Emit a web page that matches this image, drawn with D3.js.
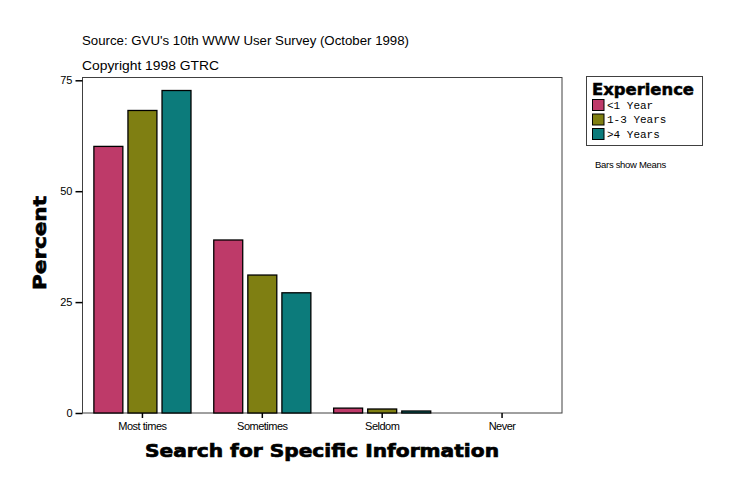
<!DOCTYPE html>
<html><head><meta charset="utf-8">
<script src="https://cdn.jsdelivr.net/npm/d3@7"></script>
<style>body{margin:0;background:#fff;}svg{display:block;}</style>
</head><body>
<svg id="c" width="736" height="496"></svg>
<script>
const categories = ["Most times", "Sometimes", "Seldom", "Never"];
const seriesNames = ["<1 Year", "1-3 Years", ">4 Years"];
const lessThan1 = [60.1, 39.0, 1.1, 0];
const oneToThree = [68.2, 31.1, 0.9, 0];
const moreThan4 = [72.7, 27.1, 0.45, 0];
const seriesValues = [lessThan1, oneToThree, moreThan4];
const colors = ["#BE3A69", "#7F7F12", "#0C7B7B"];
const yTicks = [0, 25, 50, 75];

const svg = d3.select("#c");
const L = 82.5, R = 562, T = 77.5, B = 413;
const x0 = d3.scaleBand().domain(categories).range([L, R]).paddingInner(0.19).paddingOuter(0.095);
const x1 = d3.scaleBand().domain(seriesNames).range([0, x0.bandwidth()]).paddingInner(0.15);
const y = d3.scaleLinear().domain([0, 75]).range([B, 80.3]);

// plot frame
svg.append("rect").attr("x", L).attr("y", T).attr("width", R - L).attr("height", B - T)
  .attr("fill", "#fff").attr("stroke", "#404040").attr("stroke-width", 1);

// bars
categories.forEach((c, ci) => {
  seriesValues.forEach((vals, si) => {
    const v = vals[ci];
    if (v <= 0) return;
    svg.append("rect")
      .attr("x", x0(c) + x1(seriesNames[si]))
      .attr("y", y(v))
      .attr("width", x1.bandwidth())
      .attr("height", B - y(v))
      .attr("fill", colors[si]).attr("stroke", "#000").attr("stroke-width", 1.3);
  });
});

// y axis
const yAxis = d3.axisLeft(y).tickValues(yTicks).tickSize(7).tickPadding(3);
const gy = svg.append("g").attr("transform", `translate(${L},0)`).call(yAxis);
gy.select(".domain").remove();
gy.selectAll("line").attr("stroke", "#000").attr("stroke-width", 1.5);
gy.selectAll("text").attr("font-family", "Liberation Sans, Arial, sans-serif").attr("font-size", 11).attr("fill", "#000");

// x axis
const xAxis = d3.axisBottom(x0).tickSize(5).tickPadding(4);
const gx = svg.append("g").attr("transform", `translate(0,${B})`).call(xAxis);
gx.select(".domain").remove();
gx.selectAll("line").attr("stroke", "#000").attr("stroke-width", 1.5);
gx.selectAll("text").attr("font-family", "Liberation Sans, Arial, sans-serif").attr("font-size", 11).attr("fill", "#000").attr("letter-spacing", "-0.5px");

// titles
svg.append("text").attr("x", 322).attr("y", 457).attr("text-anchor", "middle")
  .attr("font-family", "DejaVu Sans, sans-serif").attr("font-weight", "bold").attr("font-size", 18)
  .attr("stroke", "#000").attr("stroke-width", 0.7)
  .attr("textLength", 354).attr("lengthAdjust", "spacingAndGlyphs")
  .text("Search for Specific Information");
svg.append("text").attr("transform", "translate(46,243) rotate(-90)").attr("text-anchor", "middle")
  .attr("font-family", "DejaVu Sans, sans-serif").attr("font-weight", "bold").attr("font-size", 18)
  .attr("stroke", "#000").attr("stroke-width", 0.7)
  .attr("textLength", 94).attr("lengthAdjust", "spacingAndGlyphs")
  .text("Percent");

svg.append("text").attr("x", 82).attr("y", 45)
  .attr("font-family", "Liberation Sans, Arial, sans-serif").attr("font-size", 13)
  .attr("textLength", 327).attr("lengthAdjust", "spacingAndGlyphs")
  .text("Source: GVU's 10th WWW User Survey (October 1998)");
svg.append("text").attr("x", 82).attr("y", 70)
  .attr("font-family", "Liberation Sans, Arial, sans-serif").attr("font-size", 13)
  .attr("textLength", 137).attr("lengthAdjust", "spacingAndGlyphs")
  .text("Copyright 1998 GTRC");

// legend
const lg = svg.append("g");
lg.append("rect").attr("x", 586.5).attr("y", 76.5).attr("width", 116).attr("height", 69)
  .attr("fill", "#fff").attr("stroke", "#404040");
lg.append("text").attr("x", 592).attr("y", 95)
  .attr("font-family", "DejaVu Sans, sans-serif").attr("font-weight", "bold").attr("font-size", 15)
  .attr("stroke", "#000").attr("stroke-width", 0.5)
  .attr("textLength", 102).attr("lengthAdjust", "spacingAndGlyphs").text("Experience");
seriesNames.forEach((s, i) => {
  const yy = 99.5 + i * 14.5;
  lg.append("rect").attr("x", 592.5).attr("y", yy).attr("width", 11.5).attr("height", 11)
    .attr("fill", colors[i]).attr("stroke", "#000").attr("stroke-width", 1);
  lg.append("text").attr("x", 607).attr("y", yy + 9)
    .attr("font-family", "Liberation Mono, Courier New, monospace").attr("font-size", 11)
    .text(s);
});
svg.append("text").attr("x", 595).attr("y", 168)
  .attr("font-family", "Liberation Sans, Arial, sans-serif").attr("font-size", 9.5)
  .attr("letter-spacing", "-0.3px")
  .text("Bars show Means");
</script>
</body></html>
